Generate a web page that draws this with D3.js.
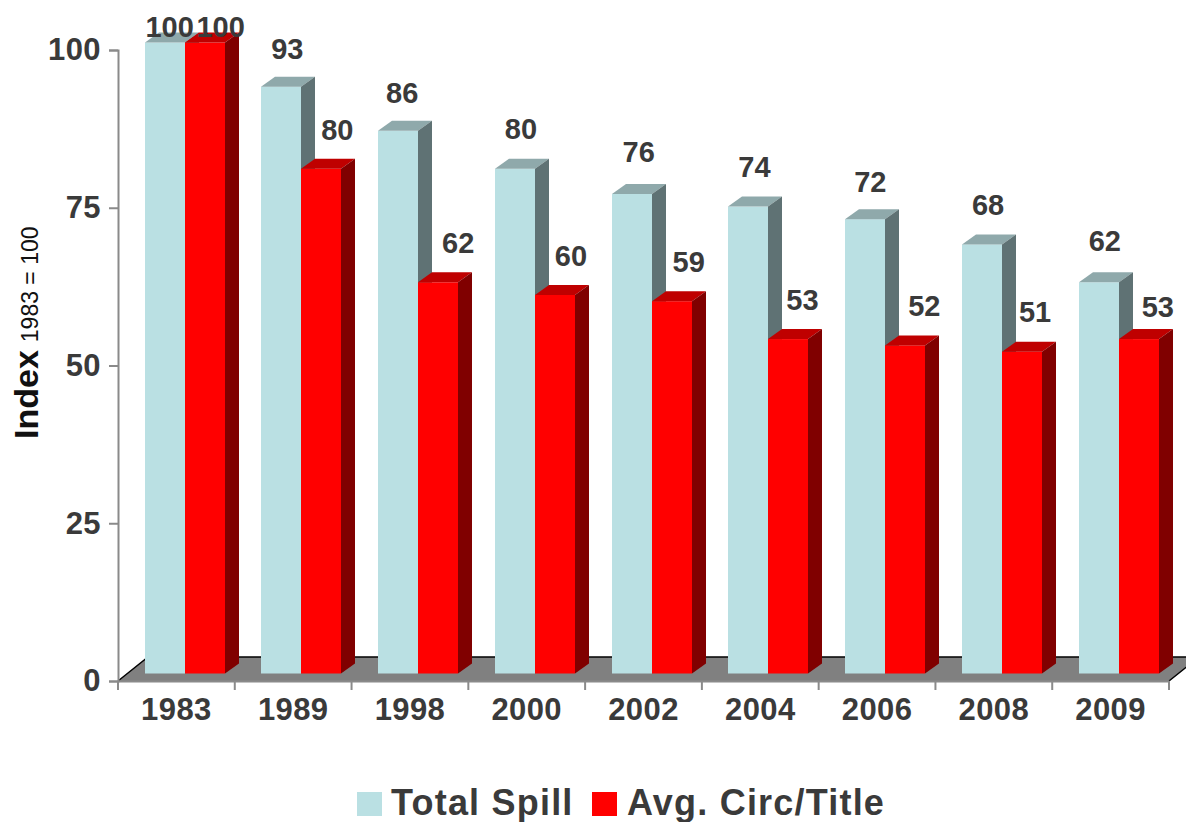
<!DOCTYPE html>
<html>
<head>
<meta charset="utf-8">
<script src="https://cdn.jsdelivr.net/npm/d3@7"></script>
<style>
  html, body { margin: 0; padding: 0; background: #fff; }
  svg { display: block; }
  text { font-family: "Liberation Sans", Arial, sans-serif; font-weight: bold; fill: #3a3a3a; }
  .axis path, .axis line { stroke: #8a8a8a; stroke-width: 2px; }
</style>
</head>
<body>
<div id="chart"></div>
<script>
var years = ["1983", "1989", "1998", "2000", "2002", "2004", "2006", "2008", "2009"];
var totalSpill = [100, 93, 86, 80, 76, 74, 72, 68, 62];
var avgCirc = [100, 80, 62, 60, 59, 53, 52, 51, 53];
var seriesNames = ["Total Spill", "Avg. Circ/Title"];
var yTicks = [0, 25, 50, 75, 100];

// the value labels were placed by hand in the original, so each has its own nudge
var spillNudgeX = [0, 1, -1, 1, 2, 1, 0, 1, 1];
var spillNudgeY = [0, 2, 2, 0, -2, 0, 2, 0, -2];
var circNudgeX = [0, 0, 4, 0, 1, -2, 3, -3, 3];
var circNudgeY = [0, 1, 0, 1, 0, 0, 0, 0, 7];

var svgWidth = 1186;
var svgHeight = 822;
var margin = { top: 50, right: 17, bottom: 141, left: 118 };
var width = svgWidth - margin.left - margin.right;
var height = svgHeight - margin.top - margin.bottom;

// 3d extrusion of the bars and of the floor
var depth = { x: 14, y: -10 };
var floorDepth = { x: 30, y: -24 };
var barLift = 7.5;

var colors = {
  "Total Spill": { front: "#bae0e3", top: "#8fa9ab", side: "#5f7274" },
  "Avg. Circ/Title": { front: "#ff0000", top: "#bf0000", side: "#800000" },
};

var svg = d3
  .select("#chart")
  .append("svg")
  .attr("width", svgWidth)
  .attr("height", svgHeight);

var chartGroup = svg
  .append("g")
  .attr("transform", `translate(${margin.left}, ${margin.top})`);

var xScale = d3.scaleBand().domain(years).range([0, width]);
var seriesScale = d3.scaleBand().domain(seriesNames).range([26.6, 106.6]);
var yScale = d3.scaleLinear().domain([0, 100]).range([height, 0]);

// floor
var floorPoints = [
  [0, height],
  [floorDepth.x, height + floorDepth.y],
  [width + floorDepth.x, height + floorDepth.y],
  [width, height],
];

chartGroup
  .append("path")
  .attr("d", d3.line()(floorPoints) + "Z")
  .attr("fill", "#808080");

chartGroup
  .append("path")
  .attr("d", d3.line()(floorPoints))
  .attr("fill", "none")
  .attr("stroke", "#000")
  .attr("stroke-width", 1.5);

// axes
var leftAxis = d3.axisLeft(yScale).tickValues(yTicks).tickSize(9).tickPadding(8);
var yAxis = chartGroup.append("g").attr("class", "axis").call(leftAxis);
yAxis.selectAll("text").attr("font-size", "31px").style("letter-spacing", "0.4px");

var bottomAxis = d3.axisBottom(xScale).tickSize(0).tickPadding(17);
var xAxis = chartGroup
  .append("g")
  .attr("class", "axis")
  .attr("transform", `translate(0, ${height})`)
  .call(bottomAxis);
xAxis.selectAll("text").attr("font-size", "31px").style("letter-spacing", "0.4px");

xAxis
  .selectAll(".edge")
  .data(d3.range(years.length + 1))
  .enter()
  .append("line")
  .attr("class", "edge")
  .attr("x1", (d) => d * xScale.step())
  .attr("x2", (d) => d * xScale.step())
  .attr("y1", 0)
  .attr("y2", 9);

// bars
function drawSeries(name, values, cls) {
  var c = colors[name];
  var bars = chartGroup
    .selectAll(".bar-" + cls)
    .data(values)
    .enter()
    .append("g")
    .attr("class", "bar-" + cls)
    .attr("transform", (d, i) => `translate(${Math.round(xScale(years[i]) + seriesScale(name))}, ${-barLift})`);

  var w = seriesScale.bandwidth();

  bars
    .append("rect")
    .attr("y", (d) => yScale(d))
    .attr("width", w)
    .attr("height", (d) => height - yScale(d))
    .attr("fill", c.front);

  bars
    .append("path")
    .attr("fill", c.top)
    .attr("d", (d) =>
      d3.line()([
        [0, yScale(d)],
        [depth.x, yScale(d) + depth.y],
        [w + depth.x, yScale(d) + depth.y],
        [w, yScale(d)],
      ]) + "Z"
    );

  bars
    .append("path")
    .attr("fill", c.side)
    .attr("d", (d) =>
      d3.line()([
        [w, yScale(d)],
        [w + depth.x, yScale(d) + depth.y],
        [w + depth.x, height + depth.y],
        [w, height],
      ]) + "Z"
    );
}

function drawLabels(name, values, cls, shift, nudgeX, nudgeY) {
  chartGroup
    .selectAll(".label-" + cls)
    .data(values)
    .enter()
    .append("text")
    .attr("class", "label-" + cls)
    .attr("x", (d, i) => xScale(years[i]) + seriesScale(name) + seriesScale.bandwidth() / 2 + shift + nudgeX[i])
    .attr("y", (d, i) => Math.max(-23, yScale(d) - barLift - 40 + nudgeY[i]))
    .attr("dy", "0.36em")
    .attr("text-anchor", "middle")
    .attr("font-size", "29px")
    .text((d) => d);
}

drawSeries(seriesNames[0], totalSpill, "spill");
drawSeries(seriesNames[1], avgCirc, "circ");
drawLabels(seriesNames[0], totalSpill, "spill", 5, spillNudgeX, spillNudgeY);
drawLabels(seriesNames[1], avgCirc, "circ", 16, circNudgeX, circNudgeY);

// y axis title
svg
  .append("text")
  .attr("transform", "translate(38, 439) rotate(-90)")
  .attr("font-size", "34px")
  .style("fill", "#111")
  .text("Index")
  .append("tspan")
  .attr("dx", 8)
  .attr("font-size", "23px")
  .attr("font-weight", "normal")
  .text("1983 = 100");

// legend
var legendItems = [
  { name: seriesNames[0], swatch: 357, text: 391 },
  { name: seriesNames[1], swatch: 592, text: 627 },
];

var legend = svg
  .selectAll(".legend")
  .data(legendItems)
  .enter()
  .append("g")
  .attr("class", "legend");

legend
  .append("rect")
  .attr("x", (d) => d.swatch)
  .attr("y", 792)
  .attr("width", 25)
  .attr("height", 24)
  .attr("fill", (d) => colors[d.name].front);

legend
  .append("text")
  .attr("x", (d) => d.text)
  .attr("y", 815)
  .attr("font-size", "36px")
  .style("letter-spacing", "1.2px")
  .text((d) => d.name);
</script>
</body>
</html>
